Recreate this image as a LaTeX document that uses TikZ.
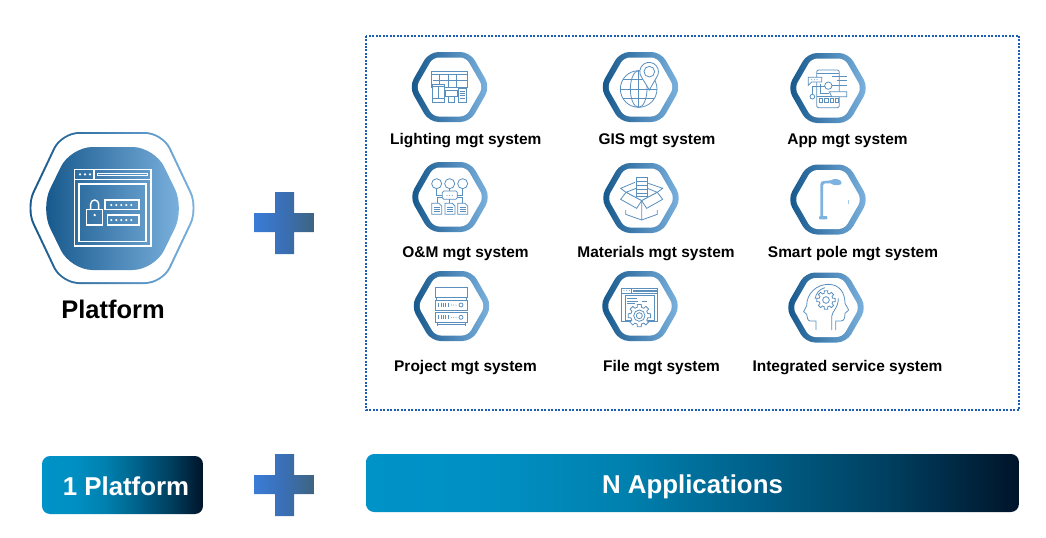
\documentclass[tikz,border=0pt]{standalone}
\usepackage{fontspec}
\setmainfont{Liberation Sans}
\usepackage{tikz}
\usetikzlibrary{arrows.meta,positioning,calc}

\definecolor{hexdark}{HTML}{14568A}
\definecolor{hexlight}{HTML}{7DB3E0}
\definecolor{iconblue}{HTML}{5A8FBE}
\definecolor{framedot}{HTML}{1A5FB4}
\definecolor{barA}{HTML}{0093C8}
\definecolor{barB}{HTML}{008FC2}
\definecolor{barC}{HTML}{0080AE}
\definecolor{barD}{HTML}{006089}
\definecolor{barE}{HTML}{003F5F}
\definecolor{barF}{HTML}{00142A}
\definecolor{plusleft}{HTML}{3A7CD6}
\definecolor{plusmid}{HTML}{3A6FB5}
\definecolor{plusright}{HTML}{3F6480}
\pgfdeclarehorizontalshading{barfade}{100bp}{color(0bp)=(barA);color(25bp)=(barA);color(35bp)=(barB);color(45bp)=(barC);color(55bp)=(barD);color(65bp)=(barE);color(75bp)=(barF);color(100bp)=(barF)}

\tikzset{
    hexshade/.style={left color=hexdark, right color=hexlight},
    sysline/.style={draw=iconblue, line width=0.45pt},
    whiteline/.style={draw=white, line width=0.8pt},
    syslabel/.style={font=\fontsize{8.8}{10}\selectfont\bfseries, text=black, inner sep=0pt},
    plusmark/.style={left color=plusleft, right color=plusright, middle color=plusmid},
    barbox/.style={rounded corners=0.16cm, shading=barfade, minimum height=1.16cm, inner sep=0pt},
    barlabel/.style={font=\fontsize{14.7}{17}\selectfont\bfseries, text=white, inner sep=0pt, anchor=base},
}

% hexagon lying on its side: centre x, centre y, half width, half height, slant
\newcommand{\hexpath}[5]{({#1-#3},#2) -- ({#1-#3+#5},{#2-#4}) -- ({#1+#3-#5},{#2-#4}) -- ({#1+#3},#2) -- ({#1+#3-#5},{#2+#4}) -- ({#1-#3+#5},{#2+#4}) -- cycle}
% small ring used behind each system icon
\newcommand{\sysring}[2]{
    \shade[hexshade, rounded corners=0.19cm] \hexpath{#1}{#2}{40.5}{35}{20};
    \fill[white, rounded corners=0.12cm] \hexpath{#1}{#2}{33.5}{29.5}{17};
}
% gear outline: centre, root radius, tip radius
\newcommand{\gearpath}[4]{
    \draw[sysline, fill=white, shift={(#1,#2)}] (-14:#3)
        \foreach \a in {0,45,...,315} { -- (\a-10:#4) -- (\a+10:#4) -- (\a+14:#3) -- (\a+31:#3) } -- cycle;
}

\begin{document}
\begin{tikzpicture}[x=0.02cm, y=-0.02cm]
    \useasboundingbox (0,0) rectangle (1046,538);

    % Big platform hexagon
    \shade[hexshade, rounded corners=0.36cm] \hexpath{112}{208}{87}{76}{36};
    \fill[white, rounded corners=0.33cm] \hexpath{112}{208}{84.7}{74}{35};
    \shade[hexshade, rounded corners=0.44cm] \hexpath{112.5}{208.5}{72}{61.5}{30};

    % Browser window with lock
    \begin{scope}[shift={(20,120)}, scale=1/3]
        \draw[whiteline] (163,148) rectangle (393,378);
        \draw[whiteline] (163,178) -- (393,178) (222,148) -- (222,178);
        \draw[whiteline] (232,160) rectangle (383,167);
        \draw[whiteline] (177,192) rectangle (378,365);
        \foreach \x in {180,195,210} \fill[white] (\x,163) circle (4);
        \draw[whiteline] (200,268) rectangle (247,315);
        \draw[whiteline] (212,268) -- (212,252) arc[start angle=180, end angle=360, radius=12] -- (236,268);
        \fill[white] (224,285) circle (4);
        \draw[whiteline] (255,240) rectangle (357,268);
        \draw[whiteline] (262,285) rectangle (357,315);
        \foreach \x in {274,289,...,334} {
            \fill[white] (\x,255) circle (3.5);
            \fill[white] (\x,300) circle (3.5);
        }
    \end{scope}
    \node[font=\fontsize{14.5}{17}\selectfont\bfseries, inner sep=0pt] (platformlabel) at (113,309.5) {Platform};

    % Plus signs
    \foreach \y in {223,485} {
        \shade[plusmark] (254,\y-10) -- (275,\y-10) -- (275,\y-31) -- (294,\y-31) -- (294,\y-10) -- (314,\y-10)
            -- (314,\y+9) -- (294,\y+9) -- (294,\y+31) -- (275,\y+31) -- (275,\y+9) -- (254,\y+9) -- cycle;
    }

    % Dotted frame around the systems
    \draw[framedot, line width=0.04cm, dash pattern=on 0.04cm off 0.03cm] (366,35.5) rectangle (1019,410);

    % Rings
    \sysring{449.5}{87}
    \sysring{640.5}{87}
    \sysring{828}{88}
    \sysring{450}{197}
    \sysring{641}{198}
    \sysring{828}{199.5}
    \sysring{451.5}{306}
    \sysring{640}{306}
    \sysring{826}{307.5}

    % Lighting icon
    \begin{scope}[shift={(380,40)}, scale=1/3]
        \draw[sysline] (155,95) rectangle (262,142);
        \draw[sysline] (155,103) -- (262,103) (158,120) -- (260,120);
        \foreach \x in {178,205,228} \draw[sysline] (\x,103) -- (\x,145);
        \draw[sysline, fill=white] (157,132) rectangle (192,187);
        \draw[sysline] (157,140) -- (192,140) (157,176) -- (192,176) (175,140) -- (175,176);
        \draw[sysline, fill=white] (195,150) rectangle (232,170);
        \draw[sysline] (205,170) -- (205,187) -- (222,187) -- (222,170);
        \draw[sysline, fill=white] (235,145) rectangle (260,187);
        \foreach \y in {153,160,167,174} \draw[sysline] (239,\y) -- (256,\y);
    \end{scope}

    % GIS icon
    \begin{scope}[shift={(380,40)}, scale=1/3]
        \draw[sysline] (776,147) circle (55);
        \draw[sysline] (776,147) ellipse (25 and 55);
        \draw[sysline] (776,92) -- (776,202) (721,147) -- (831,147);
        \draw[sysline] (730,118) -- (822,118) (730,176) -- (822,176);
        \draw[sysline, fill=white] (808,150) -- (785,112) arc[start angle=143, end angle=397, radius=28] -- cycle;
        \draw[sysline] (808,95) circle (16);
    \end{scope}

    % App icon
    \begin{scope}[shift={(700,40)}, scale=1/3]
        \draw[sysline, rounded corners=0.04cm] (350,90) rectangle (418,203);
        \draw[sysline] (350,100) -- (418,100) (350,170) -- (418,170);
        \foreach \x in {358,374,390,406} \draw[sysline] (\x,175) rectangle ++(10,11);
        \draw[sysline, fill=white] (325,112) -- (365,112) -- (365,126) -- (335,126) -- (325,136) -- cycle;
        \fill[iconblue] (335,119) circle (1.5) (343,119) circle (1.5) (351,119) circle (1.5);
        \draw[sysline, fill=white] (388,155) -- (440,155) -- (440,170) -- (395,170) -- cycle;
        \draw[sysline, fill=white] (385,137) circle (11);
        \draw[sysline, fill=white] (337,170) circle (7);
        \draw[sysline] (337,163) -- (337,140) -- (374,140);
        \draw[sysline] (396,137) -- (440,137) (395,110) -- (440,110) (410,122) -- (440,122);
        \draw[sysline] (360,132) -- (360,160) -- (388,160);
    \end{scope}

    % O&M icon
    \begin{scope}[shift={(380,155)}, scale=1/3]
        \foreach \x in {170,209,248} \draw[sysline] (\x,86) circle (15);
        \draw[sysline] (209,101) -- (209,108);
        \draw[sysline] (170,101) -- (170,120) -- (187,120) (248,101) -- (248,120) -- (232,120);
        \draw[sysline, rounded corners=0.03cm] (187,108) rectangle (232,133);
        \fill[iconblue] (201,121) circle (1.5) (209,121) circle (1.5) (217,121) circle (1.5);
        \draw[sysline] (209,133) -- (209,145) (171,145) -- (171,128) -- (187,128) (248,145) -- (248,128) -- (232,128);
        \foreach \x in {155,195,233} {
            \draw[sysline] (\x,145) -- (\x+22,145) -- (\x+30,153) -- (\x+30,178) -- (\x,178) -- cycle;
            \foreach \y in {156,163,170} \draw[sysline] (\x+6,\y) -- (\x+24,\y);
        }
    \end{scope}

    % Materials icon
    \begin{scope}[shift={(380,155)}, scale=1/3]
        \draw[sysline] (738,112) -- (722,100) -- (765,82) (832,112) -- (848,100) -- (805,85);
        \draw[sysline] (768,68) rectangle (802,125);
        \foreach \y in {78,90,102,114} \draw[sysline] (768,\y) -- (802,\y);
        \draw[sysline] (738,112) -- (785,137) -- (832,112) (738,112) -- (768,100) (832,112) -- (802,100);
        \draw[sysline, fill=white] (738,112) -- (722,133) -- (770,160) -- (785,137) -- cycle;
        \draw[sysline, fill=white] (832,112) -- (848,133) -- (800,160) -- (785,137) -- cycle;
        \draw[sysline] (737,165) -- (737,178) -- (785,195) -- (832,178) -- (832,165) (785,137) -- (785,195);
    \end{scope}

    % Smart pole icon
    \begin{scope}[shift={(700,155)}, scale=1/3]
        \fill[hexlight] (361,190) -- (361,88) .. controls (361,80) and (366,78) .. (372,78) -- (392,76)
            .. controls (400,70) and (424,70) .. (425,84) .. controls (425,92) and (400,93) .. (392,85)
            -- (374,85) .. controls (370,85) and (369,87) .. (369,90) -- (369,190) -- cycle;
        \fill[hexlight, rounded corners=0.02cm] (357,183) rectangle (382,193);
        \draw[hexlight!70, line width=0.4pt] (444,135) -- (444,146);
    \end{scope}

    % Project icon
    \begin{scope}[shift={(380,265)}, scale=1/3]
        \draw[sysline] (166,68) rectangle (262,97);
        \draw[sysline] (170,97) -- (170,105) (258,97) -- (258,105);
        \foreach \y in {105,142} {
            \draw[sysline] (166,\y) rectangle (262,\y+30);
            \foreach \x in {176,183,190,197,204} \draw[sysline] (\x,\y+9) -- (\x,\y+21);
            \fill[iconblue] (214,\y+15) circle (1.5) (221,\y+15) circle (1.5) (228,\y+15) circle (1.5);
            \draw[sysline] (243,\y+15) circle (6);
        }
        \draw[sysline] (172,172) -- (172,184) (255,172) -- (255,184) (172,178) -- (255,178);
    \end{scope}

    % File icon
    \begin{scope}[shift={(380,265)}, scale=1/3]
        \draw[sysline] (725,70) rectangle (832,170);
        \draw[sysline] (725,85) -- (832,85) (755,70) -- (755,85);
        \draw[sysline] (760,75) rectangle (828,80);
        \draw[sysline] (735,92) -- (735,165) -- (822,165) -- (822,92) -- cycle;
        \foreach \x in {732,740,748} \fill[iconblue] (\x,77) circle (1.5);
        \draw[sysline] (742,100) -- (770,100) (742,108) -- (775,108) (785,108) -- (802,108) (742,116) -- (765,116);
        \gearpath{778}{152}{26}{34}
        \draw[sysline] (778,152) circle (17) (778,152) circle (9);
    \end{scope}

    % Two heads icon
    \begin{scope}[shift={(700,265)}, scale=1/3]
        \draw[sysline] (348,195) -- (348,168) -- (330,168) .. controls (322,168) and (322,155) .. (320,148)
            -- (311,140) -- (320,122) .. controls (320,85) and (350,58) .. (385,58)
            .. controls (420,58) and (435,85) .. (435,115) -- (446,135) -- (435,145)
            .. controls (435,160) and (432,168) .. (422,168) -- (407,168) -- (407,195);
        \draw[sysline] (345,102) .. controls (348,85) and (358,72) .. (375,68);
        \draw[sysline] (395,195) -- (395,155) .. controls (395,140) and (415,130) .. (415,100);
        \gearpath{378}{105}{21}{28}
        \draw[sysline] (378,105) circle (10);
    \end{scope}

    % System names
    \node[syslabel] (lightinglabel) at (465.8,141) {Lighting mgt system};
    \node[syslabel] (gislabel) at (657,141) {GIS mgt system};
    \node[syslabel] (applabel) at (847.5,141) {App mgt system};
    \node[syslabel] (omlabel) at (465.5,254) {O\&M mgt system};
    \node[syslabel] (materialslabel) at (656,254) {Materials mgt system};
    \node[syslabel] (polelabel) at (853,254) {Smart pole mgt system};
    \node[syslabel] (projectlabel) at (465.5,368) {Project mgt system};
    \node[syslabel] (filelabel) at (661.5,368) {File mgt system};
    \node[syslabel] (servicelabel) at (847.5,368) {Integrated service system};

    % Bottom bars
    \node[barbox, minimum width=3.22cm] (onebar) at (122.5,485) {};
    \node[barbox, minimum width=13.06cm] (nbar) at (692.5,483) {};
    \node[barlabel] (onelabel) at (126,495) {1 Platform};
    \node[barlabel] (nlabel) at (692.5,493) {N Applications};
\end{tikzpicture}
\end{document}
